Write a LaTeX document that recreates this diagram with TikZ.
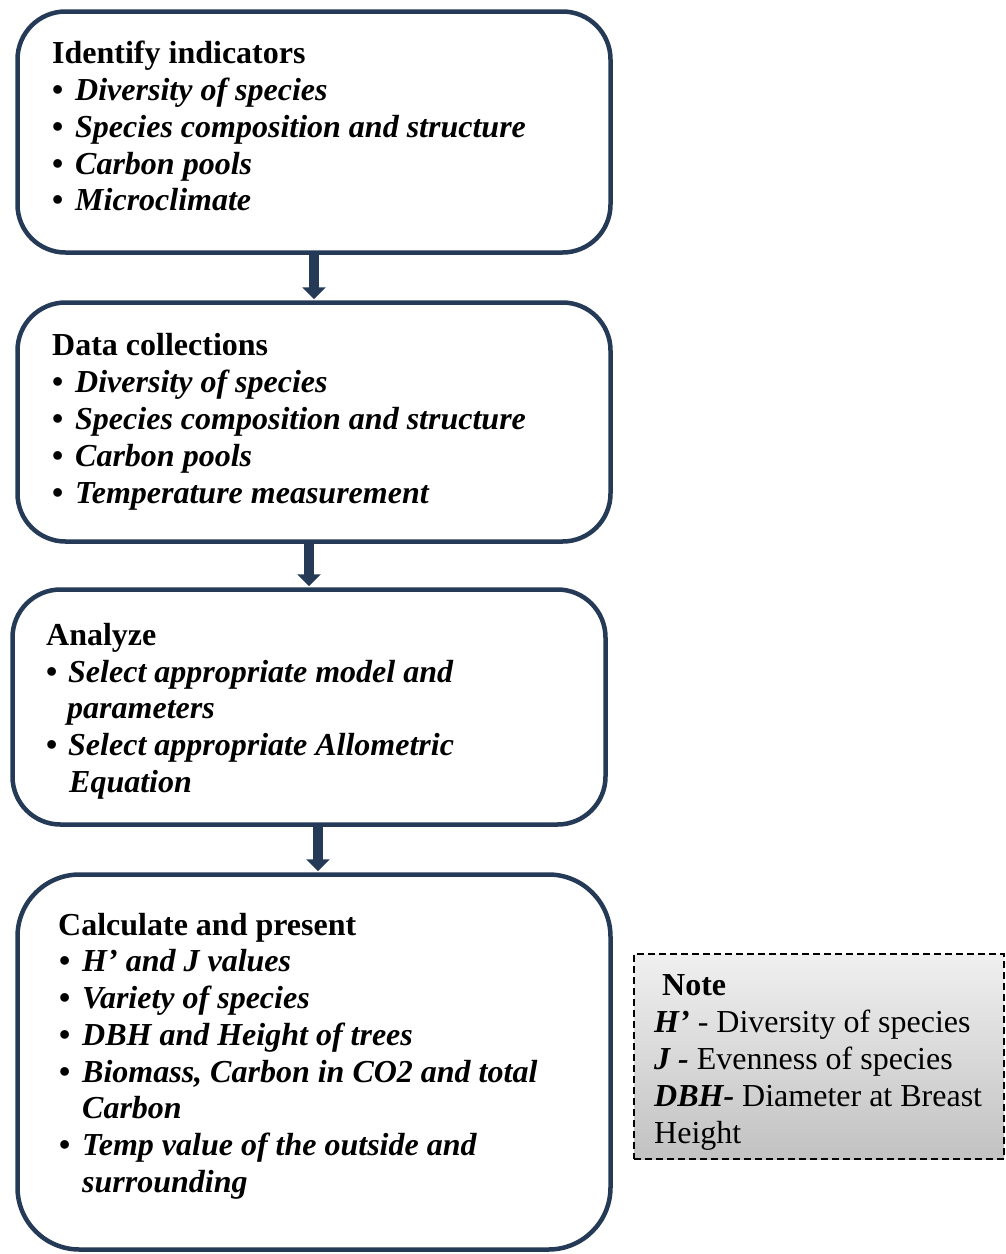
\documentclass[tikz,border=0pt]{standalone}
\usepackage{fontspec}
\setmainfont{Liberation Serif}
\usetikzlibrary{arrows.meta,calc}
\definecolor{navy}{HTML}{243A57}
\tikzset{
  stepbox/.style={draw=navy,line width=4.5pt,rounded corners=#1,inner sep=0pt,fill=white},
  txt/.style={anchor=base west,inner sep=0pt,font=\fontsize{32}{36.8}\selectfont},
  flow/.style={draw=navy,line width=10pt,-{Triangle[width=23pt,length=12pt]},shorten >=1pt},
  notebox/.style={draw=black,line width=1.6pt,dash pattern=on 7pt off 4pt,top color=white!94!black,bottom color=white!76!black,inner sep=0pt}
}
\newcommand{\bl}[2]{\makebox[#1][l]{\textbf{\textbullet}}\textbf{\textit{#2}}}
\begin{document}
\begin{tikzpicture}[x=1pt,y=-1pt]
\useasboundingbox (0,0) rectangle (1006,1254);
% boxes
\node[stepbox=48pt,minimum width=593pt,minimum height=241pt] (b1) at (314,132) {};
\node[stepbox=48pt,minimum width=593pt,minimum height=239pt] (b2) at (314,422) {};
\node[stepbox=48pt,minimum width=593pt,minimum height=235pt] (b3) at (309,707) {};
\node[stepbox=62pt,minimum width=593pt,minimum height=375pt] (b4) at (314,1062) {};
\node[notebox,minimum width=370pt,minimum height=205pt] (nb) at (819,1056.5) {};
% arrows
\draw[flow] (b1.south) -- (b2.north);
\draw[flow] (b3.north |- b2.south) -- (b3.north);
\draw[flow] ($(b3.south)+(9,0)$) -- ($(b4.north)+(4,0)$);
% box 1 text
\node[txt] (t11) at (52,63) {\textbf{Identify indicators}};
\node[txt] (t12) at (52,100) {\bl{23pt}{Diversity of species}};
\node[txt] (t13) at (52,137) {\bl{23pt}{Species composition and structure}};
\node[txt] (t14) at (52,174) {\bl{23pt}{Carbon pools}};
\node[txt] (t15) at (52,210) {\bl{23pt}{Microclimate}};
% box 2 text
\node[txt] (t21) at (52,355) {\textbf{Data collections}};
\node[txt] (t22) at (52,392) {\bl{23pt}{Diversity of species}};
\node[txt] (t23) at (52,429) {\bl{23pt}{Species composition and structure}};
\node[txt] (t24) at (52,466) {\bl{23pt}{Carbon pools}};
\node[txt] (t25) at (52,503) {\bl{23pt}{Temperature measurement}};
% box 3 text
\node[txt] (t31) at (46,645) {\textbf{Analyze}};
\node[txt] (t32) at (46,682) {\bl{22pt}{Select appropriate model and}};
\node[txt] (t33) at (67,718) {\textbf{\textit{parameters}}};
\node[txt] (t34) at (46,755) {\bl{22pt}{Select appropriate Allometric}};
\node[txt] (t35) at (69,792) {\textbf{\textit{Equation}}};
% box 4 text
\node[txt] (t41) at (58,935) {\textbf{Calculate and present}};
\node[txt] (t42) at (59,971) {\bl{23pt}{H’ and J values}};
\node[txt] (t43) at (59,1008) {\bl{23pt}{Variety of species}};
\node[txt] (t44) at (59,1045) {\bl{23pt}{DBH and Height of trees}};
\node[txt] (t45) at (59,1082) {\bl{23pt}{Biomass, Carbon in CO2 and total}};
\node[txt] (t46) at (82,1118) {\textbf{\textit{Carbon}}};
\node[txt] (t47) at (59,1155) {\bl{23pt}{Temp value of the outside and}};
\node[txt] (t48) at (82,1192) {\textbf{\textit{surrounding}}};
% note text
\node[txt] (n1) at (662,995) {\textbf{Note}};
\node[txt] (n2) at (654,1032) {\textbf{\textit{H’}} - Diversity of species};
\node[txt] (n3) at (654,1069) {\textbf{\textit{J -}} Evenness of species};
\node[txt] (n4) at (654,1106) {\textbf{\textit{DBH-}} Diameter at Breast};
\node[txt] (n5) at (654,1143) {Height};
\end{tikzpicture}
\end{document}
